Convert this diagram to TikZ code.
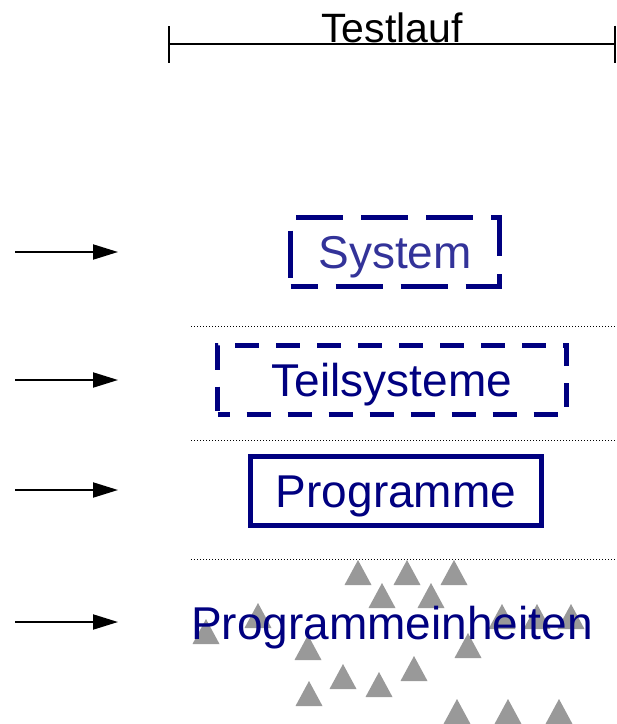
\documentclass[tikz,border=0pt]{standalone}
\usepackage{fontspec}
\setmainfont{Liberation Sans}
\usepackage{xcolor}
\usepackage{tikz}
\usetikzlibrary{arrows.meta,positioning}
\definecolor{boxblue}{RGB}{0,0,128}
\definecolor{sysblue}{RGB}{51,51,153}
\definecolor{unitgray}{RGB}{153,153,153}

\begin{document}
\begin{tikzpicture}[
  x=1pt, y=-1pt,
  level/.style={draw=boxblue, line width=5pt, minimum height=69pt,
    inner sep=0pt, text=boxblue, font=\fontsize{46}{50}\selectfont,
    text height=33pt, text depth=0pt},
  longdash/.style={dash pattern=on 47pt off 18pt, dash phase=20pt},
  shortdash/.style={dash pattern=on 24pt off 17pt, dash phase=12pt},
  feed/.style={line width=2pt, -{Triangle[length=25pt,width=15pt]}},
  divider/.style={line width=1pt, dotted},
  unit/.style={fill=unitgray}
]
\useasboundingbox (0,0) rectangle (617,724);

% Testlauf span
\coordinate (runa) at (168,44);
\coordinate (runb) at (616,44);
\draw[line width=2pt, {Bar[width=37pt]}-{Bar[width=37pt]}] (runa) -- (runb);
\node[anchor=base, inner sep=0pt, font=\fontsize{41}{45}\selectfont] (run)
  at (392,42) {Testlauf};

% Program units (triangles)
\foreach \tx/\ty in {358/585, 407/585, 454/585, 382/608, 431/608,
    258/628, 206/644, 502/629, 537/629, 571/629, 308/660, 468/658,
    414/681, 343/689, 379/697, 309/706, 457/724, 508/724, 559/724}
  \fill[unit] (\tx-13.5,\ty) -- (\tx+13.5,\ty) -- (\tx,\ty-25) -- cycle;

% Levels
\node[level, longdash, minimum width=209pt, text=sysblue] (sys)
  at (395,252) {System};
\node[level, shortdash, minimum width=349pt] (sub) at (392,380) {Teilsysteme};
\node[level, minimum width=291pt] (prog) at (396,491) {Programme};
\node[text=boxblue, inner sep=0pt, font=\fontsize{46}{50}\selectfont,
  text height=33pt, text depth=0pt] (units) at (392,623) {Programmeinheiten};

% Dividers
\foreach \dy in {326,440,559}
  \draw[divider] (191,\dy) -- (617,\dy);

% Feed arrows
\foreach \ay/\an in {252/sys, 380/sub, 490/prog, 622/units} {
  \coordinate (in-\an) at (15,\ay);
  \coordinate (at-\an) at (118,\ay);
  \draw[feed] (in-\an) -- (at-\an);
}

\end{tikzpicture}
\end{document}
